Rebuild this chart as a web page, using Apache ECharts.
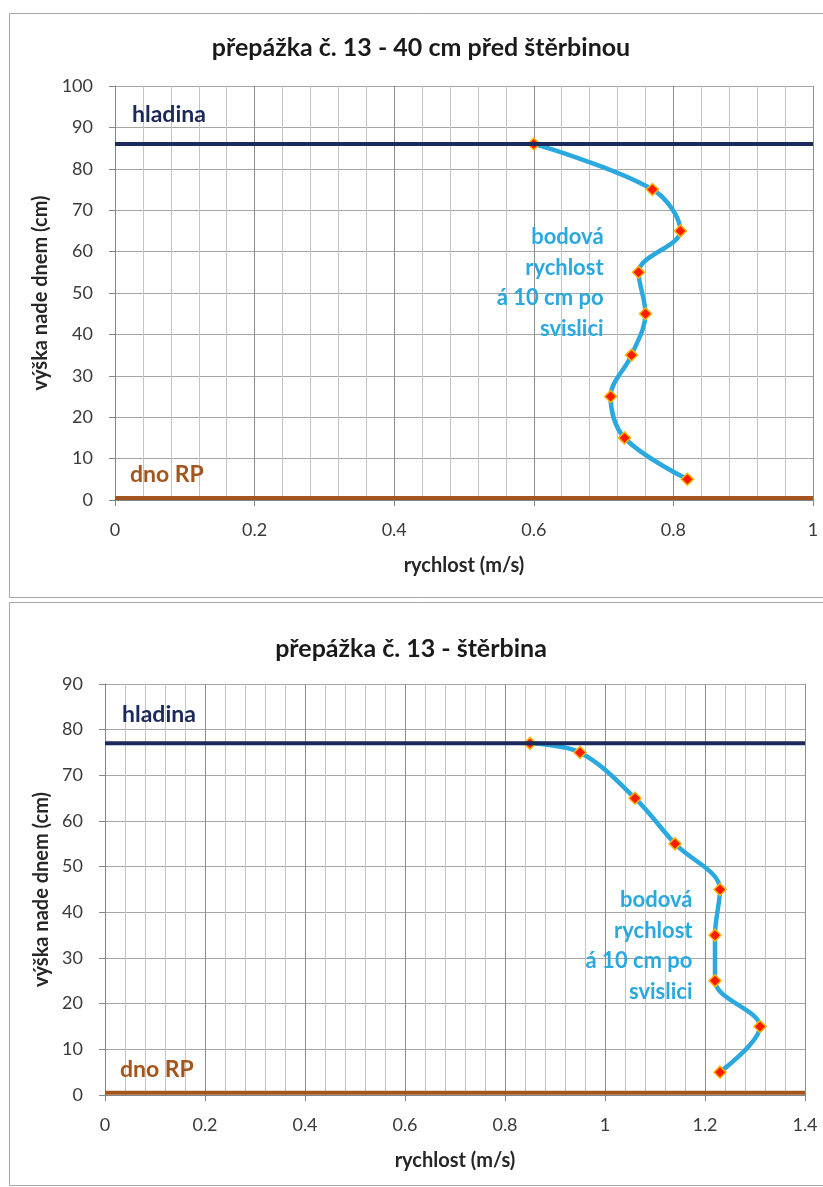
<!DOCTYPE html>
<html>
<head>
<meta charset="utf-8">
<script src="https://cdn.jsdelivr.net/npm/echarts@6/dist/echarts.min.js"></script>
<style>
  html, body { margin: 0; padding: 0; background: #ffffff; }
  #chart { width: 823px; height: 1187px; }
</style>
</head>
<body>
<div id="chart"></div>
<script>
// Vertical velocity profiles at baffle no. 13
const titles = ['přepážka č. 13 - 40 cm před štěrbinou', 'přepážka č. 13 - štěrbina'];
const xAxisName = 'rychlost (m/s)';
const yAxisName = 'výška nade dnem (cm)';

// profile 40 cm upstream of the slot
const upHeights = [86, 75, 65, 55, 45, 35, 25, 15, 5];
const upSpeeds  = [0.60, 0.77, 0.81, 0.75, 0.76, 0.74, 0.71, 0.73, 0.82];

// profile in the slot
const slotHeights = [77, 75, 65, 55, 45, 35, 25, 15, 5];
const slotSpeeds  = [0.85, 0.95, 1.06, 1.14, 1.23, 1.22, 1.22, 1.31, 1.23];

// water surface and channel bed levels (cm)
const surfaceLevels = [86, 77];
const bedLevels = [0.5, 0.5];

// axis ranges
const xMaxes = [1, 1.4];
const yMaxes = [100, 90];

const surfaceLabel = 'hladina';
const bedLabel = 'dno RP';
const noteLines = ['bodová', 'rychlost', 'á 10 cm po', 'svislici'];

// layout of the two panels (pixels)
const grids = [
  { left: 115, right: 10, top: 86, bottom: 687 },
  { left: 105, right: 18, top: 684, bottom: 92 }
];
const notePos = [[0.70, 63.5], [1.175, 42.7]];

const FONT = 'Lato, "Open Sans", sans-serif';
const NAVY = '#1b2a5c';
const BROWN = '#a3551d';
const BLUE = '#2aa8e0';

function pairs(xs, ys) { return xs.map((x, i) => [x, ys[i]]); }

const chart = echarts.init(document.getElementById('chart'), null, { renderer: 'canvas' });

const xAxes = [], yAxes = [], series = [];
[0, 1].forEach(i => {
  xAxes.push({
    type: 'value', gridIndex: i, min: 0, max: xMaxes[i], interval: 0.2,
    name: xAxisName, nameLocation: 'middle', nameGap: 56,
    nameTextStyle: { fontFamily: FONT, fontWeight: 'bold', fontSize: 20, color: '#262626' },
    axisLine: { show: true, onZero: false, lineStyle: { color: '#868686', width: 1 } },
    axisTick: { show: true, length: 6, lineStyle: { color: '#868686' } },
    axisLabel: { fontFamily: FONT, fontSize: 18, color: '#3a3a3a', margin: 21 },
    splitLine: { show: true, lineStyle: { color: '#8c8c8c', width: 1 } },
    minorTick: { show: false, splitNumber: 5 },
    minorSplitLine: { show: true, lineStyle: { color: '#c4c4c4', width: 1 } }
  });
  yAxes.push({
    type: 'value', gridIndex: i, min: 0, max: yMaxes[i], interval: 10,
    name: yAxisName, nameLocation: 'middle', nameGap: i === 0 ? 61 : 51, nameRotate: 90,
    nameTextStyle: { fontFamily: FONT, fontWeight: 'bold', fontSize: 20, color: '#262626' },
    axisLine: { show: true, lineStyle: { color: '#868686', width: 1 } },
    axisTick: { show: true, length: 6, lineStyle: { color: '#868686' } },
    axisLabel: { fontFamily: FONT, fontSize: 18, color: '#3a3a3a', margin: 22 },
    splitLine: { show: true, lineStyle: { color: '#a6a6a6', width: 1 } }
  });

  const profile = i === 0 ? pairs(upSpeeds, upHeights) : pairs(slotSpeeds, slotHeights);
  series.push({
    type: 'line', xAxisIndex: i, yAxisIndex: i, z: 3,
    data: profile, smooth: 0.35,
    lineStyle: { color: BLUE, width: 4.5 },
    symbol: 'diamond', symbolSize: 12,
    itemStyle: { color: '#ff1a00', borderColor: '#ffb400', borderWidth: 1.5 },
    emphasis: { disabled: true }, animation: false
  });
  series.push({
    type: 'line', xAxisIndex: i, yAxisIndex: i, z: 5,
    data: [[0, surfaceLevels[i]], [xMaxes[i], surfaceLevels[i]]],
    symbol: 'none', lineStyle: { color: NAVY, width: 4 }, animation: false
  });
  series.push({
    type: 'line', xAxisIndex: i, yAxisIndex: i, z: 4,
    data: [[0, bedLevels[i]], [xMaxes[i], bedLevels[i]]],
    symbol: 'none', lineStyle: { color: BROWN, width: 4 }, animation: false
  });
});

chart.setOption({
  animation: false,
  grid: grids.map(g => Object.assign({ containLabel: false }, g)),
  xAxis: xAxes,
  yAxis: yAxes,
  series: series
});

// panel frames, titles and in-plot annotations
const graphics = [
  { type: 'rect', shape: { x: 9.5, y: 13.5, width: 830, height: 584 }, style: { fill: null, stroke: '#a6a6a6', lineWidth: 1 }, z: -10 },
  { type: 'rect', shape: { x: 9.5, y: 602.5, width: 830, height: 583 }, style: { fill: null, stroke: '#a6a6a6', lineWidth: 1 }, z: -10 }
];
const titleCenters = [[421, 48], [411, 649]];
[0, 1].forEach(i => {
  graphics.push({
    type: 'text', x: titleCenters[i][0], y: titleCenters[i][1],
    style: { text: titles[i], fontFamily: FONT, fontWeight: 'bold', fontSize: 25, fill: '#1a1a1a', textAlign: 'center', textVerticalAlign: 'middle' }
  });
  const surf = chart.convertToPixel({ gridIndex: i }, [0, surfaceLevels[i]]);
  graphics.push({
    type: 'text', x: surf[0] + 17, y: surf[1] - 29,
    style: { text: surfaceLabel, fontFamily: FONT, fontWeight: 'bold', fontSize: 23, fill: NAVY, textAlign: 'left', textVerticalAlign: 'middle' }
  });
  const bed = chart.convertToPixel({ gridIndex: i }, [0, bedLevels[i]]);
  graphics.push({
    type: 'text', x: bed[0] + 15, y: bed[1] - 23,
    style: { text: bedLabel, fontFamily: FONT, fontWeight: 'bold', fontSize: 23, fill: BROWN, textAlign: 'left', textVerticalAlign: 'middle' }
  });
  const note = chart.convertToPixel({ gridIndex: i }, notePos[i]);
  noteLines.forEach((line, k) => {
    graphics.push({
      type: 'text', x: note[0], y: note[1] + k * 30.5,
      style: { text: line, fontFamily: FONT, fontWeight: 'bold', fontSize: 22, fill: BLUE, textAlign: 'right', textVerticalAlign: 'middle' }
    });
  });
});
chart.setOption({ graphic: graphics });
</script>
</body>
</html>
